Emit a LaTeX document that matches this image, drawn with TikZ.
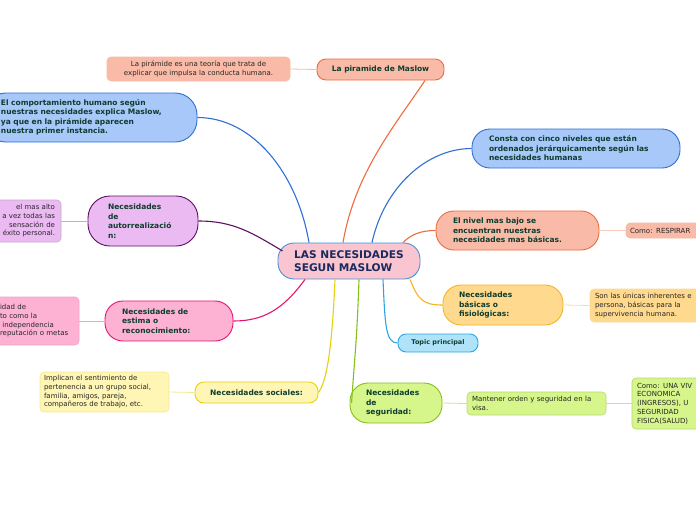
\documentclass[tikz,border=0pt]{standalone}
\usepackage{fontspec}
\setmainfont{DejaVu Sans}
\usetikzlibrary{positioning, calc}

\definecolor{raizfill}{HTML}{F9C5D1}
\definecolor{raizline}{HTML}{4A90D9}
\definecolor{raiztext}{HTML}{1B2A5E}
\definecolor{tematext}{HTML}{0E3D2E}
\definecolor{salmon}{HTML}{F9BBA7}
\definecolor{salmonline}{HTML}{EE6A3F}
\definecolor{azul}{HTML}{A7C8F9}
\definecolor{azulline}{HTML}{2E6FD6}
\definecolor{lila}{HTML}{ECBAF2}
\definecolor{lilaline}{HTML}{5E1060}
\definecolor{rosa}{HTML}{FDB2D3}
\definecolor{rosaline}{HTML}{E3166E}
\definecolor{amarillo}{HTML}{FFF6B5}
\definecolor{amarilloline}{HTML}{E5D10E}
\definecolor{lima}{HTML}{D6F58A}
\definecolor{limaline}{HTML}{86BE1E}
\definecolor{naranja}{HTML}{FFD98D}
\definecolor{naranjaline}{HTML}{F4B322}
\definecolor{celeste}{HTML}{AEE3FA}
\definecolor{celesteline}{HTML}{2AA5E6}

\tikzset{
  raiz/.style={draw=raizline, fill=raizfill, line width=0.9pt, rounded corners=16pt,
    font=\fontsize{10.6}{13}\selectfont\bfseries, text=raiztext, align=left, inner sep=0pt},
  tema/.style 2 args={draw=#2, fill=#1, line width=0.9pt,
    font=\fontsize{7.5}{9.5}\selectfont\bfseries, text=tematext, align=left, inner sep=0pt},
  nota/.style 2 args={draw=#2, fill=#1, line width=0.6pt, rounded corners=4pt,
    font=\fontsize{7}{8.7}\selectfont, text=black!85, align=left, inner sep=0pt},
  rama/.style={line width=1.1pt},
  enlace/.style={line width=0.8pt}
}

\begin{document}
\begin{tikzpicture}[x=1pt, y=-1pt]

  \useasboundingbox (0,0) rectangle (696,520);
  \clip (0,0) rectangle (696,520);

  %% nodo central
  \node[raiz, minimum width=142pt, minimum height=36pt] (raiz) at (349,261)
    {LAS NECESIDADES\\SEGUN MASLOW};

  %% temas principales
  \node[tema={salmon}{salmonline}, rounded corners=9pt, minimum width=127pt, minimum height=21pt]
    (piramide) at (380.5,69.5) {La piramide de Maslow};
  \node[tema={azul}{azulline}, rounded corners=22pt, minimum width=213pt, minimum height=49pt, text width=179pt]
    (comport) at (90.5,117.5)
    {El comportamiento humano según\\nuestras necesidades explica Maslow,\\ya que en la pirámide aparecen\\nuestra primer instancia.};
  \node[tema={lila}{lilaline}, rounded corners=22pt, minimum width=110pt, minimum height=50pt, text width=70pt]
    (autorr) at (143,221) {Necesidades\\de\\autorrealizació\\n:};
  \node[tema={rosa}{rosaline}, rounded corners=18pt, minimum width=128pt, minimum height=40pt, text width=94pt]
    (estima) at (169,321) {Necesidades de\\estima o\\reconocimiento:};
  \node[tema={amarillo}{amarilloline}, rounded corners=9pt, minimum width=123pt, minimum height=21pt]
    (social) at (256.5,392.5) {Necesidades sociales:};
  \node[tema={lima}{limaline}, rounded corners=18pt, minimum width=92pt, minimum height=40pt, text width=60pt]
    (segur) at (396,403) {Necesidades\\de\\seguridad:};
  \node[tema={azul}{azulline}, rounded corners=18pt, minimum width=208pt, minimum height=39pt, text width=174pt]
    (consta) at (576,148.5)
    {Consta con cinco niveles que están\\ordenados jerárquicamente según las\\necesidades humanas};
  \node[tema={salmon}{salmonline}, rounded corners=18pt, minimum width=163pt, minimum height=39pt, text width=129pt]
    (nivel) at (517.5,230.5)
    {El nivel mas bajo se\\encuentran nuestras\\necesidades mas básicas.};
  \node[tema={naranja}{naranjaline}, rounded corners=18pt, minimum width=120pt, minimum height=40pt, text width=88pt]
    (basica) at (503,305) {Necesidades\\básicas o\\fisiológicas:};
  \node[tema={celeste}{celesteline}, rounded corners=8pt, minimum width=80pt, minimum height=18pt,
    font=\fontsize{6.5}{8}\selectfont\bfseries]
    (topic) at (438,343) {Topic principal};

  %% notas
  \node[nota={salmon}{salmonline!45}, minimum width=183pt, minimum height=24pt, align=center]
    (notapir) at (198.5,69) {La pirámide es una teoría que trata de\\explicar que impulsa la conducta humana.};
  \node[nota={lila}{lilaline!35}, minimum width=102pt, minimum height=42pt, text width=90pt, align=right]
    (notaaut) at (10,221) {el mas alto\\a vez todas las\\sensación de\\éxito personal.};
  \node[nota={rosa}{rosaline!40}, minimum width=84pt, minimum height=48pt, text width=74pt]
    (notaest) at (37,321) {idad de\\to como la\\\ independencia\\reputación o metas};
  \node[nota={amarillo}{amarilloline!45}, minimum width=129pt, minimum height=40pt, text width=121pt]
    (notasoc) at (104.5,392)
    {Implican el sentimiento de\\pertenencia a un grupo social,\\familia, amigos, pareja,\\compañeros de trabajo, etc.};
  \node[nota={lima}{limaline!60}, minimum width=139pt, minimum height=23pt, text width=129pt]
    (notaseg) at (536.5,403.5) {Mantener orden y seguridad en la\\visa.};
  \node[nota={lima}{limaline!60}, minimum width=96pt, minimum height=51pt, text width=86pt]
    (notaviv) at (680,403.5) {Como: UNA VIV\\ECONOMICA\\(INGRESOS), U\\SEGURIDAD\\FISICA(SALUD)};
  \node[nota={salmon}{salmonline!45}, minimum width=94pt, minimum height=15pt, text width=86pt]
    (notaresp) at (673,230.5) {Como: RESPIRAR};
  \node[nota={naranja}{naranjaline!45}, minimum width=130pt, minimum height=33pt, text width=120pt]
    (notabas) at (655,305.5)
    {Son las únicas inherentes e\\persona, básicas para la\\supervivencia humana.};

  %% ramas desde el centro
  \draw[rama, salmonline] ([xshift=-6pt]raiz.north) .. controls +(12,-70) and +(-30,45) .. ([xshift=44.5pt]piramide.south);
  \draw[rama, azulline] ([xshift=-40pt]raiz.north) .. controls +(-12,-70) and +(55,0) .. (comport.east);
  \draw[rama, azulline] ([xshift=23pt]raiz.north) .. controls +(12,-55) and +(-45,0) .. (consta.west);
  \draw[rama, salmonline] ([xshift=54pt]raiz.north) .. controls +(8,-8) and +(-15,0) .. (nivel.west);
  \draw[rama, naranjaline] ([xshift=61pt]raiz.south) .. controls +(8,20) and +(-20,0) .. (basica.west);
  \draw[rama, celesteline] ([xshift=34pt]raiz.south) .. controls +(2,45) and +(-12,0) .. (topic.west);
  \draw[rama, limaline] ([xshift=10pt]raiz.south) .. controls +(-2,60) and +(3,-45) .. ([xshift=2pt]segur.west);
  \draw[rama, amarilloline] ([xshift=-14pt]raiz.south) .. controls +(-3,70) and +(8,-10) .. (social.east);
  \draw[rama, rosaline] ([xshift=-44pt]raiz.south) .. controls +(-22,30) and +(30,0) .. (estima.east);
  \draw[rama, lilaline] ([xshift=5pt, yshift=10pt]raiz.west) .. controls +(-30,-18) and +(35,0) .. (autorr.east);

  %% enlaces a las notas
  \draw[enlace, salmonline!45] (notapir.east) -- (piramide.west);
  \draw[enlace, lilaline!35] (notaaut.east) -- (autorr.west);
  \draw[enlace, rosaline!40] (notaest.east) -- (estima.west);
  \draw[enlace, amarilloline!45] (notasoc.east) -- (social.west);
  \draw[enlace, limaline!45] (segur.east) -- (notaseg.west);
  \draw[enlace, limaline!45] (notaseg.east) -- (notaviv.west);
  \draw[enlace, salmonline!35] (nivel.east) -- (notaresp.west);
  \draw[enlace, naranjaline!45] (basica.east) -- (notabas.west);

\end{tikzpicture}
\end{document}
